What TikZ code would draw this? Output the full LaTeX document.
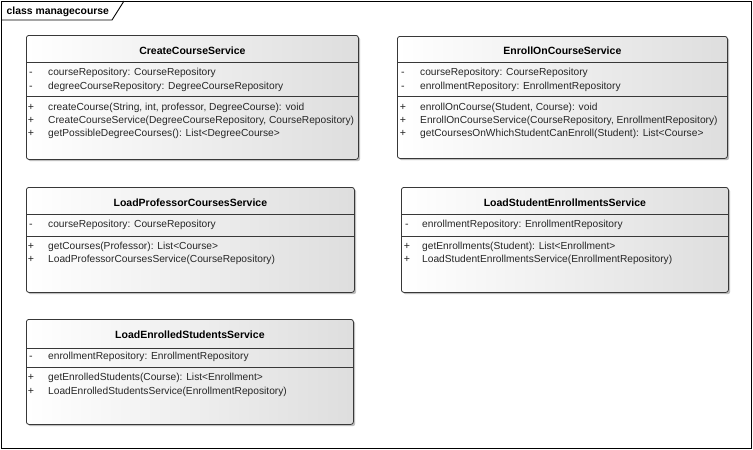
\documentclass[tikz,border=0pt]{standalone}
\usepackage{fontspec}
\setmainfont{Liberation Sans}
\begin{document}
\begin{tikzpicture}[x=1pt,y=-1pt,
  classbox/.style={draw=black!78, line width=0.8pt, rounded corners=2.5pt,
    left color=white, right color=black!13, anchor=north west, inner sep=0pt},
  shadowbox/.style={fill=black!25, rounded corners=2.5pt, draw=none, anchor=north west, inner sep=0pt},
  divider/.style={draw=black!78, line width=0.8pt},
  frameline/.style={draw=black, line width=0.9pt},
  titletext/.style={font=\fontsize{10.5}{12}\selectfont\bfseries, text=black, inner sep=0pt, anchor=mid},
  membertext/.style={font=\fontsize{10.2}{12}\selectfont, text=black!85, inner sep=0pt, anchor=mid west},
  vistext/.style={font=\fontsize{10.6}{12}\selectfont, text=black!85, inner sep=0pt, anchor=mid},
  frametext/.style={font=\fontsize{10.4}{12}\selectfont\bfseries, text=black, inner sep=0pt, anchor=mid west}
]
\useasboundingbox (0,0) rectangle (753,450);
\fill[white] (0,0) rectangle (753,450);
% frame
\draw[frameline] (1,1) rectangle (751.5,448.5);
\coordinate (tabA) at (1,20);
\coordinate (tabB) at (112,20);
\coordinate (tabC) at (124,1);
\draw[frameline] (tabA) -- (tabB) -- (tabC);
\node[frametext] (frametitle) at (6.5,11.5) {class managecourse};

% ---------- CreateCourseService ----------
\node[shadowbox, minimum width=332pt, minimum height=124pt] (ccsS) at (28,37) {};
\node[classbox, minimum width=332pt, minimum height=124pt] (ccs) at (26,35) {};
\draw[divider] (ccs.west |- 0,62) -- (ccs.east |- 0,62);
\draw[divider] (ccs.west |- 0,96) -- (ccs.east |- 0,96);
\node[titletext] (ccsT) at (ccs.north |- 0,51.5) {CreateCourseService};
\node[vistext] (ccsV1) at (31,73) {-};
\node[membertext] (ccsA1) at (48,73) {courseRepository: CourseRepository};
\node[vistext] (ccsV2) at (31,86.5) {-};
\node[membertext] (ccsA2) at (48,86.5) {degreeCourseRepository: DegreeCourseRepository};
\node[vistext] (ccsV3) at (31,107.5) {+};
\node[membertext] (ccsM1) at (48,107.5) {createCourse(String, int, professor, DegreeCourse): void};
\node[vistext] (ccsV4) at (31,120.5) {+};
\node[membertext] (ccsM2) at (48,120.5) {CreateCourseService(DegreeCourseRepository, CourseRepository)};
\node[vistext] (ccsV5) at (31,133.5) {+};
\node[membertext] (ccsM3) at (48,133.5) {getPossibleDegreeCourses(): List<DegreeCourse>};

% ---------- EnrollOnCourseService ----------
\node[shadowbox, minimum width=330pt, minimum height=122pt] (eocS) at (399,38) {};
\node[classbox, minimum width=330pt, minimum height=122pt] (eoc) at (397,36) {};
\draw[divider] (eoc.west |- 0,62) -- (eoc.east |- 0,62);
\draw[divider] (eoc.west |- 0,96) -- (eoc.east |- 0,96);
\node[titletext] (eocT) at (eoc.north |- 0,52) {EnrollOnCourseService};
\node[vistext] (eocV1) at (403,73) {-};
\node[membertext] (eocA1) at (420,73) {courseRepository: CourseRepository};
\node[vistext] (eocV2) at (403,86.5) {-};
\node[membertext] (eocA2) at (420,86.5) {enrollmentRepository: EnrollmentRepository};
\node[vistext] (eocV3) at (403,107.5) {+};
\node[membertext] (eocM1) at (420,107.5) {enrollOnCourse(Student, Course): void};
\node[vistext] (eocV4) at (403,120.5) {+};
\node[membertext] (eocM2) at (420,120.5) {EnrollOnCourseService(CourseRepository, EnrollmentRepository)};
\node[vistext] (eocV5) at (403,133.5) {+};
\node[membertext] (eocM3) at (420,133.5) {getCoursesOnWhichStudentCanEnroll(Student): List<Course>};

% ---------- LoadProfessorCoursesService ----------
\node[shadowbox, minimum width=328pt, minimum height=105pt] (lpcS) at (28,189) {};
\node[classbox, minimum width=328pt, minimum height=105pt] (lpc) at (26,187) {};
\draw[divider] (lpc.west |- 0,214) -- (lpc.east |- 0,214);
\draw[divider] (lpc.west |- 0,236) -- (lpc.east |- 0,236);
\node[titletext] (lpcT) at (lpc.north |- 0,203.5) {LoadProfessorCoursesService};
\node[vistext] (lpcV1) at (31,225) {-};
\node[membertext] (lpcA1) at (48,225) {courseRepository: CourseRepository};
\node[vistext] (lpcV2) at (31,246.5) {+};
\node[membertext] (lpcM1) at (48,246.5) {getCourses(Professor): List<Course>};
\node[vistext] (lpcV3) at (31,260) {+};
\node[membertext] (lpcM2) at (48,260) {LoadProfessorCoursesService(CourseRepository)};

% ---------- LoadStudentEnrollmentsService ----------
\node[shadowbox, minimum width=327pt, minimum height=105pt] (lseS) at (403,189) {};
\node[classbox, minimum width=327pt, minimum height=105pt] (lse) at (401,187) {};
\draw[divider] (lse.west |- 0,214) -- (lse.east |- 0,214);
\draw[divider] (lse.west |- 0,236) -- (lse.east |- 0,236);
\node[titletext] (lseT) at (lse.north |- 0,203.5) {LoadStudentEnrollmentsService};
\node[vistext] (lseV1) at (407,225) {-};
\node[membertext] (lseA1) at (422,225) {enrollmentRepository: EnrollmentRepository};
\node[vistext] (lseV2) at (407,246.5) {+};
\node[membertext] (lseM1) at (422,246.5) {getEnrollments(Student): List<Enrollment>};
\node[vistext] (lseV3) at (407,260) {+};
\node[membertext] (lseM2) at (422,260) {LoadStudentEnrollmentsService(EnrollmentRepository)};

% ---------- LoadEnrolledStudentsService ----------
\node[shadowbox, minimum width=327pt, minimum height=105pt] (lesS) at (28,321) {};
\node[classbox, minimum width=327pt, minimum height=105pt] (les) at (26,319) {};
\draw[divider] (les.west |- 0,348) -- (les.east |- 0,348);
\draw[divider] (les.west |- 0,367) -- (les.east |- 0,367);
\node[titletext] (lesT) at (les.north |- 0,335.5) {LoadEnrolledStudentsService};
\node[vistext] (lesV1) at (31,357) {-};
\node[membertext] (lesA1) at (48,357) {enrollmentRepository: EnrollmentRepository};
\node[vistext] (lesV2) at (31,378) {+};
\node[membertext] (lesM1) at (48,378) {getEnrolledStudents(Course): List<Enrollment>};
\node[vistext] (lesV3) at (31,391.5) {+};
\node[membertext] (lesM2) at (48,391.5) {LoadEnrolledStudentsService(EnrollmentRepository)};
\end{tikzpicture}
\end{document}
